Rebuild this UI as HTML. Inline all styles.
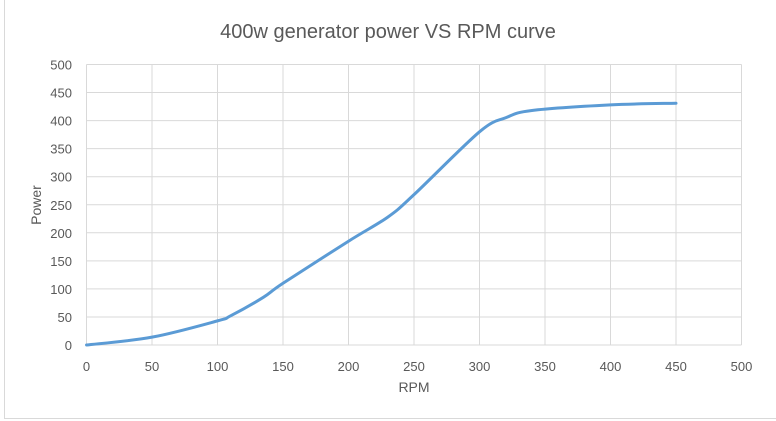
<!DOCTYPE html>
<html><head><meta charset="utf-8"><style>
body{margin:0;background:#fff;font-family:"Liberation Sans",sans-serif;}
svg{display:block}
</style></head><body>
<svg width="776" height="421" id="c">
<rect x="0" y="0" width="776" height="421" fill="#fff"/>
<line x1="4.5" y1="0" x2="4.5" y2="418" stroke="#d9d9d9"/>
<line x1="4" y1="418.5" x2="776" y2="418.5" stroke="#d9d9d9"/>
<text x="388" y="38" text-anchor="middle" font-size="20" fill="#595959">400w generator power VS RPM curve</text>
<g id="grid"></g><g id="ticks"></g>
<text x="414" y="392" text-anchor="middle" font-size="14" fill="#595959">RPM</text>
<text transform="translate(41,205) rotate(-90)" text-anchor="middle" font-size="14" fill="#595959">Power</text>
<path id="line" fill="none" stroke="#5b9bd5" stroke-width="3" stroke-linejoin="round" stroke-linecap="round"/>
</svg>
<script>
const rpm=[0,50,100,110,135,150,200,230,250,300,320,340,400,450];
const power=[0,14,43,52,85,110,185,228,268,380,405,418,428,431];
const xTicks=[0,50,100,150,200,250,300,350,400,450,500];
const yTicks=[0,50,100,150,200,250,300,350,400,450,500];
const X=v=>86.5+v*655/500, Y=v=>345-v*280.5/500;
const ns="http://www.w3.org/2000/svg";
const g=document.getElementById('grid'),t=document.getElementById('ticks');
function mk(tag,a,p){const e=document.createElementNS(ns,tag);for(const k in a)e.setAttribute(k,a[k]);p.appendChild(e);return e;}
xTicks.forEach(v=>{const l=mk('line',{x1:X(v),x2:X(v),y1:Y(500),y2:Y(0),stroke:'#d9d9d9'},g);


const s=mk('text',{x:X(v),y:371,'text-anchor':'middle','font-size':13,fill:'#595959'},t);s.textContent=v;

});
yTicks.forEach(v=>{const l=mk('line',{x1:X(0),x2:X(500),y1:Y(v),y2:Y(v),stroke:'#d9d9d9'},g);


const s=mk('text',{x:72,y:Y(v)+5,'text-anchor':'end','font-size':13,fill:'#595959'},t);s.textContent=v;

});
// smooth path (Catmull-Rom)
const P=rpm.map((r,i)=>[X(r),Y(power[i])]);
let d='M'+P[0][0]+','+P[0][1];
for(let i=0;i<P.length-1;i++){const p0=P[Math.max(0,i-1)],p1=P[i],p2=P[i+1],p3=P[Math.min(P.length-1,i+2)];
d+=' C'+(p1[0]+(p2[0]-p0[0])/6)+','+(p1[1]+(p2[1]-p0[1])/6)+' '+(p2[0]-(p3[0]-p1[0])/6)+','+(p2[1]-(p3[1]-p1[1])/6)+' '+p2[0]+','+p2[1];}
document.getElementById('line').setAttribute('d',d);
</script>
</body></html>
